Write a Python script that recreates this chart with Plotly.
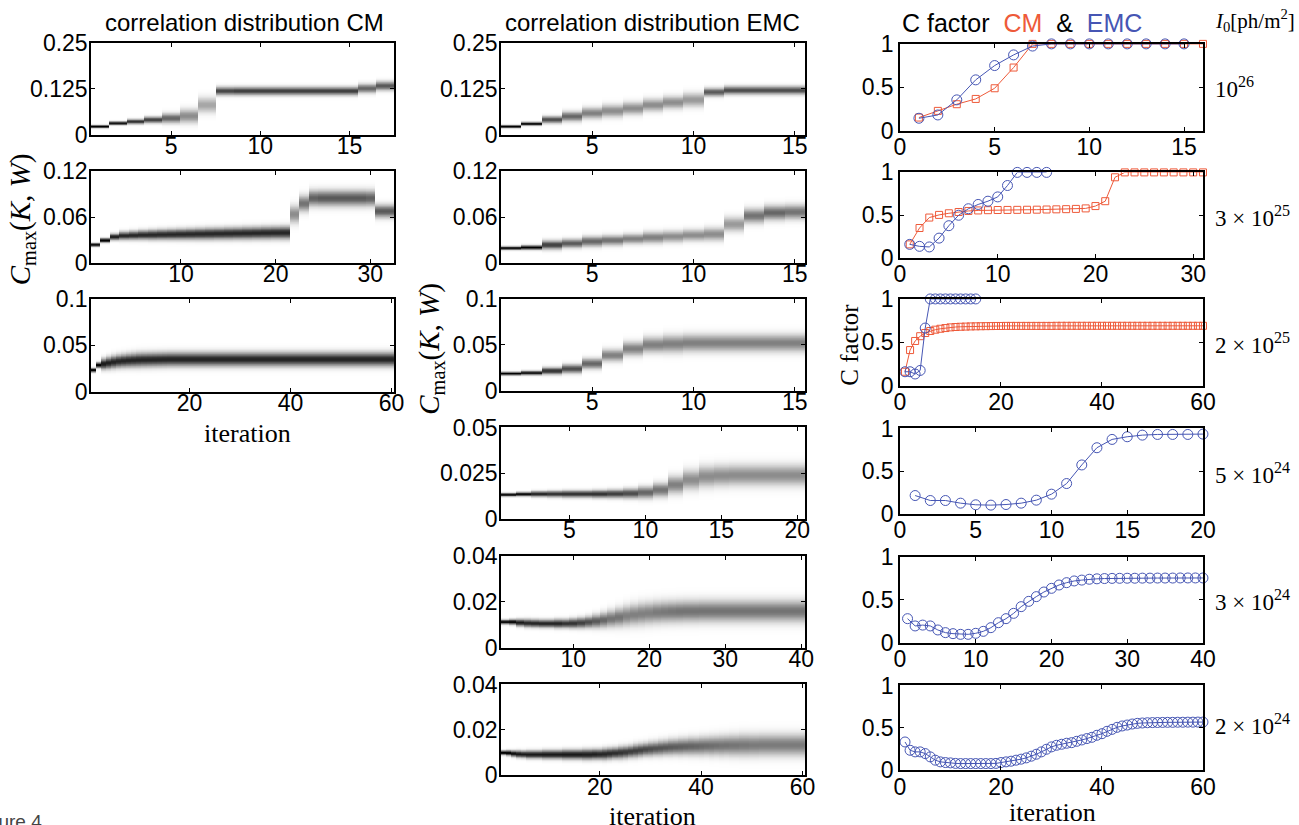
import numpy as np
import plotly.graph_objects as go

W, H = 1299, 825

# ---------------- data: correlation distributions (per iteration: centre, spread, peak darkness) ----------------
cm1_mu = [0.0226, 0.0316, 0.0360, 0.0406, 0.0450, 0.0510, 0.0810, 0.1190, 0.1190, 0.1190, 0.1190, 0.1190,
          0.1190, 0.1190, 0.1190, 0.1260, 0.1330]
cm1_sd = [0.0022, 0.0025, 0.0035, 0.0045, 0.0070, 0.0100, 0.0110, 0.0060, 0.0060, 0.0060, 0.0060, 0.0060,
          0.0060, 0.0060, 0.0060, 0.0065, 0.0065]
cm1_pk = [1.00, 0.95, 0.80, 0.75, 0.60, 0.45, 0.35, 0.72, 0.75, 0.75, 0.75, 0.75, 0.75, 0.75, 0.75, 0.60, 0.65]

cm2_mu = [0.0242, 0.0300, 0.0345, 0.0360, 0.0365, 0.0370, 0.0372, 0.0375, 0.0377, 0.0379, 0.0381, 0.0383,
          0.0385, 0.0387, 0.0389, 0.0391, 0.0393, 0.0395, 0.0397, 0.0399, 0.0400, 0.0640, 0.0780, 0.0850,
          0.0850, 0.0850, 0.0850, 0.0850, 0.0850, 0.0850, 0.0680, 0.0680]
cm2_sd = [0.0012, 0.0015, 0.0022, 0.0028, 0.0030, 0.0032, 0.0034, 0.0035, 0.0036, 0.0037, 0.0038, 0.0039,
          0.0040, 0.0040, 0.0041, 0.0041, 0.0042, 0.0042, 0.0043, 0.0043, 0.0044, 0.0060, 0.0055, 0.0055,
          0.0055, 0.0055, 0.0055, 0.0055, 0.0055, 0.0055, 0.0045, 0.0045]
cm2_pk = [1.00, 1.00, 0.90, 0.85, 0.85, 0.85, 0.85, 0.85, 0.85, 0.85, 0.85, 0.85, 0.85, 0.85, 0.85, 0.85,
          0.85, 0.85, 0.85, 0.85, 0.85, 0.45, 0.55, 0.62, 0.65, 0.65, 0.65, 0.65, 0.65, 0.62, 0.65, 0.65]

cm3_mu = [0.0234, 0.0288, 0.0300, 0.0310, 0.0320, 0.0328, 0.0333, 0.0337, 0.0340, 0.0343,
          0.0345, 0.0346, 0.0347, 0.0348, 0.0349, 0.0350, 0.0350, 0.0350, 0.0350, 0.0350,
          0.0350, 0.0350, 0.0350, 0.0350, 0.0350, 0.0350, 0.0350, 0.0350, 0.0350, 0.0350,
          0.0350, 0.0350, 0.0350, 0.0350, 0.0350, 0.0350, 0.0350, 0.0350, 0.0350, 0.0350,
          0.0350, 0.0350, 0.0350, 0.0350, 0.0350, 0.0350, 0.0350, 0.0350, 0.0350, 0.0350,
          0.0350, 0.0350, 0.0350, 0.0350, 0.0350, 0.0350, 0.0350, 0.0350, 0.0350, 0.0350]
cm3_sd = [0.0012, 0.0015, 0.0030, 0.0033, 0.0035, 0.0036, 0.0037, 0.0038, 0.0039, 0.0040,
          0.0040, 0.0040, 0.0040, 0.0040, 0.0040, 0.0040, 0.0040, 0.0040, 0.0040, 0.0040,
          0.0040, 0.0040, 0.0040, 0.0040, 0.0040, 0.0040, 0.0040, 0.0040, 0.0040, 0.0040,
          0.0040, 0.0040, 0.0040, 0.0040, 0.0040, 0.0040, 0.0040, 0.0040, 0.0040, 0.0040,
          0.0040, 0.0040, 0.0040, 0.0040, 0.0040, 0.0040, 0.0040, 0.0040, 0.0040, 0.0040,
          0.0040, 0.0040, 0.0040, 0.0040, 0.0040, 0.0040, 0.0040, 0.0040, 0.0040, 0.0040]
cm3_pk = [1.00, 1.00, 0.90, 0.88, 0.87, 0.86, 0.86, 0.86, 0.86, 0.86,
          0.86, 0.86, 0.86, 0.86, 0.86, 0.86, 0.86, 0.86, 0.86, 0.86,
          0.86, 0.86, 0.86, 0.86, 0.86, 0.86, 0.86, 0.86, 0.86, 0.86,
          0.86, 0.86, 0.86, 0.86, 0.86, 0.86, 0.86, 0.86, 0.86, 0.86,
          0.86, 0.86, 0.86, 0.86, 0.86, 0.86, 0.86, 0.86, 0.86, 0.86,
          0.86, 0.86, 0.86, 0.86, 0.86, 0.86, 0.86, 0.86, 0.86, 0.86]

emc1_mu = [0.0226, 0.0300, 0.0410, 0.0500, 0.0590, 0.0650, 0.0720, 0.0810, 0.0880, 0.0950, 0.1160, 0.1210,
           0.1210, 0.1210, 0.1210]
emc1_sd = [0.0022, 0.0025, 0.0050, 0.0070, 0.0080, 0.0090, 0.0090, 0.0090, 0.0090, 0.0100, 0.0060, 0.0060,
           0.0060, 0.0060, 0.0060]
emc1_pk = [1.00, 0.95, 0.70, 0.60, 0.50, 0.45, 0.45, 0.45, 0.45, 0.40, 0.65, 0.70, 0.70, 0.70, 0.70]

emc2_mu = [0.0199, 0.0207, 0.0240, 0.0260, 0.0285, 0.0300, 0.0320, 0.0337, 0.0350, 0.0367, 0.0380, 0.0510,
           0.0620, 0.0660, 0.0670]
emc2_sd = [0.0012, 0.0015, 0.0030, 0.0030, 0.0035, 0.0035, 0.0035, 0.0040, 0.0040, 0.0040, 0.0045, 0.0050,
           0.0050, 0.0050, 0.0050]
emc2_pk = [1.00, 1.00, 0.75, 0.65, 0.60, 0.55, 0.50, 0.50, 0.45, 0.45, 0.45, 0.40, 0.55, 0.60, 0.55]

emc3_mu = [0.0188, 0.0195, 0.0217, 0.0240, 0.0296, 0.0386, 0.0458, 0.0500, 0.0510, 0.0520, 0.0520, 0.0520,
           0.0520, 0.0520, 0.0520]
emc3_sd = [0.0010, 0.0012, 0.0020, 0.0025, 0.0030, 0.0035, 0.0040, 0.0045, 0.0050, 0.0050, 0.0050, 0.0050,
           0.0050, 0.0050, 0.0050]
emc3_pk = [1.00, 0.95, 0.80, 0.70, 0.60, 0.50, 0.50, 0.50, 0.50, 0.50, 0.50, 0.50, 0.50, 0.50, 0.50]

emc4_mu = [0.0134, 0.0137, 0.0138, 0.0138, 0.0138, 0.0138, 0.0138, 0.0139, 0.0141, 0.0146, 0.0160, 0.0188,
           0.0215, 0.0233, 0.0238, 0.0240, 0.0240, 0.0240, 0.0240, 0.0240]
emc4_sd = [0.0005, 0.0006, 0.0008, 0.0009, 0.0010, 0.0010, 0.0011, 0.0012, 0.0014, 0.0017, 0.0020, 0.0025,
           0.0028, 0.0030, 0.0030, 0.0030, 0.0030, 0.0030, 0.0030, 0.0030]
emc4_pk = [1.00, 0.95, 0.85, 0.80, 0.80, 0.80, 0.80, 0.75, 0.70, 0.60, 0.55, 0.50, 0.45, 0.45, 0.45, 0.45,
           0.45, 0.45, 0.45, 0.45]

emc5_mu = [0.0113, 0.0113, 0.0110, 0.0108, 0.0107, 0.0106, 0.0106, 0.0106, 0.0106, 0.0107,
           0.0109, 0.0112, 0.0116, 0.0121, 0.0127, 0.0133, 0.0139, 0.0144, 0.0148, 0.0151,
           0.0154, 0.0156, 0.0157, 0.0158, 0.0159, 0.0159, 0.0160, 0.0160, 0.0160, 0.0160,
           0.0160, 0.0160, 0.0160, 0.0160, 0.0160, 0.0160, 0.0160, 0.0160, 0.0160, 0.0160]
emc5_sd = [0.0005, 0.0006, 0.0008, 0.0009, 0.0009, 0.0009, 0.0009, 0.0010, 0.0010, 0.0011,
           0.0012, 0.0013, 0.0015, 0.0017, 0.0019, 0.0021, 0.0023, 0.0024, 0.0025, 0.0025,
           0.0025, 0.0025, 0.0025, 0.0025, 0.0025, 0.0025, 0.0025, 0.0025, 0.0025, 0.0025,
           0.0025, 0.0025, 0.0025, 0.0025, 0.0025, 0.0025, 0.0025, 0.0025, 0.0025, 0.0025]
emc5_pk = [1.00, 1.00, 0.90, 0.85, 0.85, 0.85, 0.85, 0.85, 0.80, 0.80,
           0.75, 0.70, 0.65, 0.60, 0.55, 0.55, 0.50, 0.50, 0.50, 0.50,
           0.52, 0.53, 0.54, 0.55, 0.55, 0.55, 0.55, 0.55, 0.55, 0.55,
           0.55, 0.55, 0.55, 0.55, 0.55, 0.55, 0.55, 0.55, 0.55, 0.55]

emc6_mu = [0.0100, 0.0099, 0.0096, 0.0094, 0.0093, 0.0092, 0.0092, 0.0092, 0.0092, 0.0092,
           0.0092, 0.0092, 0.0092, 0.0092, 0.0092, 0.0092, 0.0092, 0.0092, 0.0093, 0.0093,
           0.0094, 0.0096, 0.0098, 0.0100, 0.0102, 0.0105, 0.0108, 0.0111, 0.0114, 0.0116,
           0.0118, 0.0120, 0.0122, 0.0124, 0.0125, 0.0126, 0.0127, 0.0128, 0.0128, 0.0129,
           0.0130, 0.0130, 0.0131, 0.0131, 0.0132, 0.0132, 0.0132, 0.0133, 0.0133, 0.0133,
           0.0133, 0.0134, 0.0134, 0.0134, 0.0134, 0.0134, 0.0134, 0.0134, 0.0134, 0.0134]
emc6_sd = [0.0005, 0.0006, 0.0007, 0.0008, 0.0008, 0.0009, 0.0009, 0.0009, 0.0010, 0.0010,
           0.0010, 0.0010, 0.0011, 0.0011, 0.0011, 0.0011, 0.0012, 0.0012, 0.0012, 0.0012,
           0.0013, 0.0013, 0.0013, 0.0014, 0.0014, 0.0014, 0.0015, 0.0015, 0.0015, 0.0016,
           0.0016, 0.0017, 0.0017, 0.0018, 0.0018, 0.0019, 0.0019, 0.0020, 0.0020, 0.0021,
           0.0021, 0.0022, 0.0022, 0.0023, 0.0023, 0.0024, 0.0024, 0.0025, 0.0025, 0.0025,
           0.0025, 0.0025, 0.0025, 0.0025, 0.0025, 0.0025, 0.0025, 0.0025, 0.0025, 0.0025]
emc6_pk = [1.00, 1.00, 0.95, 0.92, 0.90, 0.90, 0.90, 0.90, 0.90, 0.90,
           0.90, 0.90, 0.90, 0.90, 0.90, 0.90, 0.88, 0.88, 0.88, 0.86,
           0.85, 0.84, 0.82, 0.80, 0.78, 0.76, 0.75, 0.74, 0.72, 0.70,
           0.68, 0.67, 0.66, 0.65, 0.64, 0.63, 0.62, 0.61, 0.60, 0.59,
           0.58, 0.57, 0.56, 0.55, 0.55, 0.54, 0.54, 0.53, 0.53, 0.52,
           0.52, 0.52, 0.52, 0.52, 0.52, 0.52, 0.52, 0.52, 0.52, 0.52]

# ---------------- data: C factor ----------------
r1_emc = [0.142, 0.18, 0.354, 0.585, 0.75, 0.873, 0.975, 1, 1, 1, 1, 1, 1, 1, 1]
r1_cm = [0.15, 0.227, 0.304, 0.365, 0.488, 0.727, 1, 1, 1, 1, 1, 1, 1, 1, 1, 1]
r2_emc = [0.16, 0.137, 0.13, 0.233, 0.378, 0.5, 0.576, 0.626, 0.664, 0.714, 0.847, 1, 1, 1, 1]
r2_cm = [0.16, 0.351, 0.473, 0.504, 0.523, 0.538, 0.55, 0.556, 0.559, 0.561, 0.562, 0.563, 0.564,
         0.565, 0.567, 0.569, 0.571, 0.574, 0.58, 0.607, 0.664, 0.943, 1, 1, 1, 1, 1, 1, 1, 1, 1]
r3_emc = [0.16, 0.16, 0.134, 0.175, 0.664, 1, 1, 1, 1, 1, 1, 1, 1, 1, 1]
r3_cm = [0.16, 0.41, 0.515, 0.57, 0.607, 0.63, 0.645, 0.656, 0.664, 0.672,
         0.676, 0.679, 0.681, 0.683, 0.684, 0.685, 0.686, 0.687, 0.688, 0.688,
         0.689, 0.689, 0.689, 0.689, 0.689, 0.689, 0.689, 0.689, 0.689, 0.689,
         0.69, 0.69, 0.69, 0.69, 0.69, 0.69, 0.69, 0.69, 0.69, 0.69,
         0.69, 0.69, 0.69, 0.69, 0.69, 0.69, 0.69, 0.69, 0.69, 0.69,
         0.69, 0.69, 0.69, 0.69, 0.69, 0.69, 0.69, 0.69, 0.69, 0.69]
r4_emc = [0.217, 0.159, 0.159, 0.128, 0.109, 0.105, 0.112, 0.128, 0.163, 0.233, 0.357, 0.574, 0.775,
          0.872, 0.903, 0.922, 0.93, 0.93, 0.93, 0.934]
r5_emc = [0.28, 0.195, 0.205, 0.195, 0.148, 0.117, 0.105, 0.097, 0.097, 0.109,
          0.132, 0.175, 0.233, 0.28, 0.342, 0.42, 0.482, 0.537, 0.591, 0.634,
          0.673, 0.70, 0.72, 0.73, 0.74, 0.745, 0.748, 0.75, 0.751, 0.752,
          0.752, 0.753, 0.753, 0.754, 0.754, 0.754, 0.755, 0.755, 0.755, 0.755]
r6_emc = [0.333, 0.235, 0.216, 0.216, 0.196, 0.157, 0.118, 0.098, 0.09, 0.086,
          0.08, 0.078, 0.078, 0.078, 0.078, 0.078, 0.078, 0.078, 0.08, 0.09,
          0.098, 0.106, 0.118, 0.13, 0.145, 0.165, 0.188, 0.216, 0.247, 0.275,
          0.294, 0.306, 0.318, 0.325, 0.341, 0.357, 0.373, 0.388, 0.412, 0.431,
          0.459, 0.482, 0.506, 0.522, 0.533, 0.545, 0.553, 0.557, 0.56, 0.562,
          0.563, 0.564, 0.565, 0.565, 0.566, 0.566, 0.567, 0.567, 0.568, 0.568]

intensity_labels = ["10<sup>26</sup>", "3 × 10<sup>25</sup>", "2 × 10<sup>25</sup>",
                    "5 × 10<sup>24</sup>", "3 × 10<sup>24</sup>", "2 × 10<sup>24</sup>"]

# ---------------- layout geometry ----------------
# The photographed page shows the figure with an ~8 px inset and slight shrink;
# target picture pixels are mapped back into figure pixels before converting to paper fractions.
OX, OY = 8.0, 8.0
SX, SY = 0.9854, 0.9721

def fx(p):
    return ((p - OX) / SX) / W

def fy(p):
    return 1 - ((p - OY) / SY) / H

SANS = "Liberation Sans, Arial, sans-serif"
SERIF = "Liberation Serif, Times New Roman, serif"
RED = "#EE5A3A"
BLUE = "#4656B4"
WIDEN = 1.25   # visual spread of the grey bands

fig = go.Figure()

heat_panels = [
    (cm1_mu, cm1_sd, cm1_pk, 0.25, [0, 0.125, 0.25], ["0", "0.125", "0.25"], [5, 10, 15], (93, 396, 38, 130)),
    (cm2_mu, cm2_sd, cm2_pk, 0.12, [0, 0.06, 0.12], ["0", "0.06", "0.12"], [10, 20, 30], (93, 396, 167, 259)),
    (cm3_mu, cm3_sd, cm3_pk, 0.1, [0, 0.05, 0.1], ["0", "0.05", "0.1"], [20, 40, 60], (93, 396, 295, 388)),
    (emc1_mu, emc1_sd, emc1_pk, 0.25, [0, 0.125, 0.25], ["0", "0.125", "0.25"], [5, 10, 15], (503, 807, 38, 130)),
    (emc2_mu, emc2_sd, emc2_pk, 0.12, [0, 0.06, 0.12], ["0", "0.06", "0.12"], [5, 10, 15], (503, 807, 167, 259)),
    (emc3_mu, emc3_sd, emc3_pk, 0.1, [0, 0.05, 0.1], ["0", "0.05", "0.1"], [5, 10, 15], (503, 807, 295, 387)),
    (emc4_mu, emc4_sd, emc4_pk, 0.05, [0, 0.025, 0.05], ["0", "0.025", "0.05"], [5, 10, 15, 20], (503, 807, 424, 516)),
    (emc5_mu, emc5_sd, emc5_pk, 0.04, [0, 0.02, 0.04], ["0", "0.02", "0.04"], [10, 20, 30, 40], (503, 807, 553, 645)),
    (emc6_mu, emc6_sd, emc6_pk, 0.04, [0, 0.02, 0.04], ["0", "0.02", "0.04"], [20, 40, 60], (503, 807, 682, 773)),
]

line_panels = [
    (r1_emc, r1_cm, 16, [0, 5, 10, 15], (902, 1205, 39, 126)),
    (r2_emc, r2_cm, 31, [0, 10, 20, 30], (902, 1205, 168, 254)),
    (r3_emc, r3_cm, 60, [0, 20, 40, 60], (902, 1205, 295, 382)),
    (r4_emc, None, 20, [0, 5, 10, 15, 20], (902, 1205, 425, 511)),
    (r5_emc, None, 40, [0, 10, 20, 30, 40], (902, 1205, 554, 640)),
    (r6_emc, None, 60, [0, 20, 40, 60], (902, 1205, 683, 768)),
]

axis_common = dict(
    showline=True, linecolor="black", linewidth=1.5, mirror="ticks",
    ticks="inside", ticklen=4, tickwidth=1, tickcolor="black",
    showgrid=False, zeroline=False,
    tickfont=dict(family=SANS, size=23, color="black"),
)

layout_axes = {}
idx = 0
NY = 240
for mu, sd, pk, ymax, yt, ytt, xt, rect in heat_panels:
    idx += 1
    n = len(mu)
    xs = np.arange(1, n + 1)
    ys = (np.arange(NY) + 0.5) * ymax / NY
    mu_a, sd_a, pk_a = np.array(mu), np.array(sd) * WIDEN, np.array(pk)
    z = pk_a[None, :] * np.exp(-0.5 * ((ys[:, None] - mu_a[None, :]) / sd_a[None, :]) ** 2)
    sfx = "" if idx == 1 else str(idx)
    fig.add_trace(go.Heatmap(
        x=xs, y=ys, z=z, zmin=0, zmax=1, showscale=False, zsmooth=False,
        colorscale=[[0, "#ffffff"], [1, "#000000"]],
        xaxis="x" + sfx, yaxis="y" + sfx, hoverinfo="skip"))
    x0, x1, y0, y1 = rect
    layout_axes["xaxis" + sfx] = dict(axis_common, domain=[fx(x0), fx(x1)], range=[0.5, n + 0.5],
                                      tickvals=xt, anchor="y" + sfx, ticklabelstandoff=-10)
    layout_axes["yaxis" + sfx] = dict(axis_common, domain=[fy(y1), fy(y0)], range=[0, ymax],
                                      tickvals=yt, ticktext=ytt, anchor="x" + sfx, ticklabelstandoff=-3)

for emc, cm, xmax, xt, rect in line_panels:
    idx += 1
    sfx = str(idx)
    if cm is not None:
        fig.add_trace(go.Scatter(
            x=list(range(1, len(cm) + 1)), y=cm, mode="lines+markers",
            line=dict(color=RED, width=1),
            marker=dict(symbol="square-open", size=7, color=RED, line=dict(width=1)),
            xaxis="x" + sfx, yaxis="y" + sfx, cliponaxis=False, showlegend=False))
    fig.add_trace(go.Scatter(
        x=list(range(1, len(emc) + 1)), y=emc, mode="lines+markers",
        line=dict(color=BLUE, width=1),
        marker=dict(symbol="circle-open", size=10, color=BLUE, line=dict(width=1)),
        xaxis="x" + sfx, yaxis="y" + sfx, cliponaxis=False, showlegend=False))
    x0, x1, y0, y1 = rect
    layout_axes["xaxis" + sfx] = dict(axis_common, domain=[fx(x0), fx(x1)], range=[0, xmax],
                                      tickvals=xt, anchor="y" + sfx, ticklabelstandoff=-5)
    layout_axes["yaxis" + sfx] = dict(axis_common, domain=[fy(y1), fy(y0)], range=[0, 1],
                                      tickvals=[0, 0.5, 1], ticktext=["0", "0.5", "1"], anchor="x" + sfx)

ann = []

def text(x, y, s, size, family, xanchor="center", yanchor="middle", angle=0, color="black"):
    ann.append(dict(x=fx(x), y=fy(y), xref="paper", yref="paper", text=s, showarrow=False,
                    xanchor=xanchor, yanchor=yanchor, textangle=angle,
                    font=dict(size=size, family=family, color=color)))

text(247, 18, "correlation distribution CM", 24, SANS)
text(655, 18, "correlation distribution EMC", 24, SANS)
text(1024, 18, "C factor  <span style='color:%s'>CM</span>  &amp;  <span style='color:%s'>EMC</span>" % (RED, BLUE),
     25, SANS)
text(1299, 16, "<i>I</i><sub>0</sub>[ph/m<sup>2</sup>]", 21, SERIF, xanchor="right")

label_y = [83, 212, 340, 470, 598, 722]
for lab, yy in zip(intensity_labels, label_y):
    text(1215, yy, lab, 23, SERIF, xanchor="left")

cmax = "<i>C</i><sub>max</sub>(<i>K</i>, <i>W</i>)"
text(24, 215, cmax, 29, SERIF, angle=-90)
text(433, 345, cmax, 29, SERIF, angle=-90)
text(852, 341, "C factor", 25, SERIF, angle=-90)
text(250, 430, "iteration", 26, SERIF)
text(655, 815, "iteration", 26, SERIF)
text(1055, 810, "iteration", 26, SERIF)
text(46, 820, "Figure 4", 19, SANS, xanchor="right", yanchor="middle", color="#444444")

fig.update_layout(
    width=W, height=H, margin=dict(l=0, r=0, t=0, b=0),
    paper_bgcolor="white", plot_bgcolor="white",
    showlegend=False, annotations=ann, **layout_axes)

fig.write_html("out.html")
